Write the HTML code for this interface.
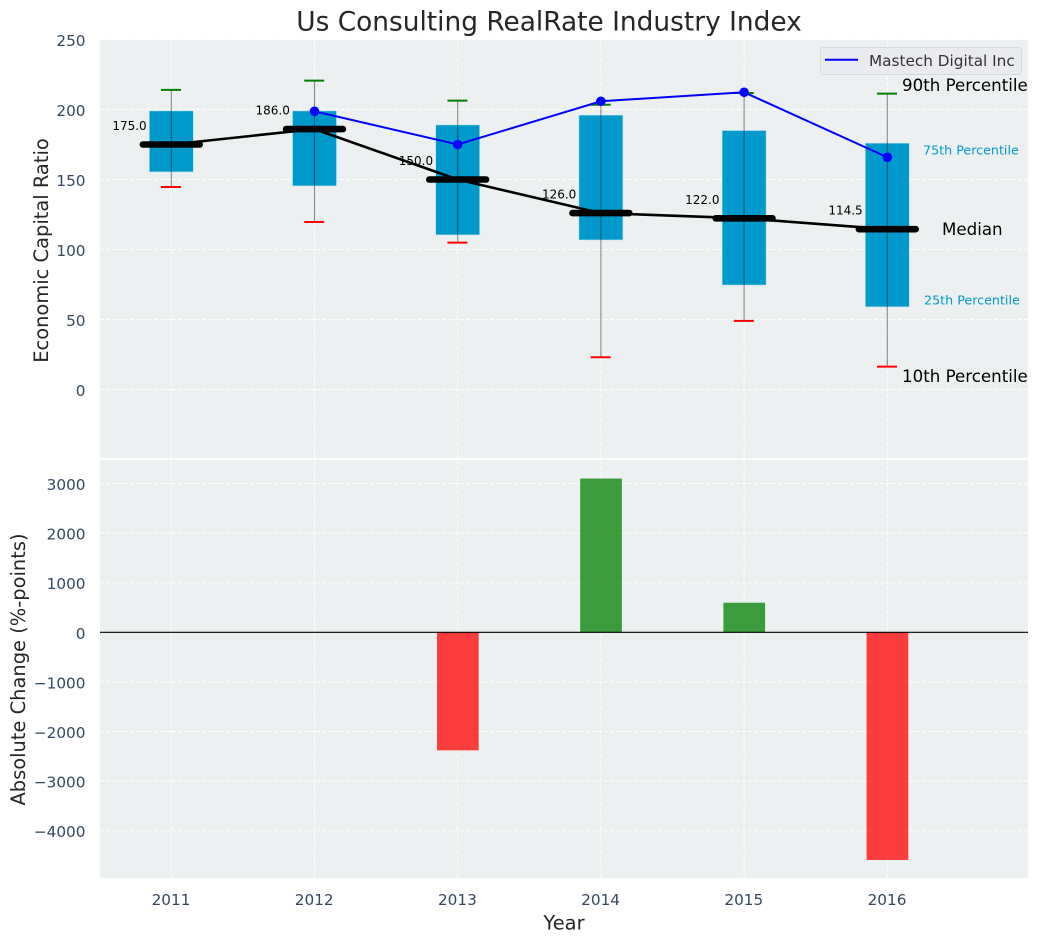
<!DOCTYPE html>
<html>
<head>
<meta charset="utf-8">
<title>Us Consulting RealRate Industry Index</title>
<style>
html,body{margin:0;padding:0;background:#fff;width:1039px;height:942px;overflow:hidden}
svg{display:block;font-family:"DejaVu Sans","Liberation Sans",sans-serif}
</style>
</head>
<body>
<svg id="chart" xmlns="http://www.w3.org/2000/svg" width="1039" height="942" viewBox="0 0 1039 942">
  <text x="549" y="30.5" text-anchor="middle" font-size="26.4" fill="#262626">Us Consulting RealRate Industry Index</text>
  <rect x="100" y="39.6" width="928" height="418.4" fill="#ecf0f1"/>
  <rect x="100" y="459.6" width="928" height="418.4" fill="#ecf0f1"/>
  <g id="topGrid"></g>
  <g id="bottomGrid"></g>
  <g id="boxes"></g>
  <g id="medianLine"></g>
  <g id="whiskers"></g>
  <g id="medians"></g>
  <g id="company"></g>
  <g id="medianLabels"></g>
  <g id="bars"></g>
  <g id="ticks"></g>
  <text transform="translate(48 250.5) rotate(-90)" text-anchor="middle" font-size="19.44" fill="#262626">Economic Capital Ratio</text>
  <text transform="translate(25 669.5) rotate(-90)" text-anchor="middle" font-size="19.44" fill="#262626">Absolute Change (%-points)</text>
  <text x="564" y="929.3" text-anchor="middle" font-size="19.44" fill="#262626">Year</text>
  <text x="902" y="91" font-size="16.67" fill="#000">90th Percentile</text>
  <text x="923" y="154.5" font-size="12.7" fill="#0099cc">75th Percentile</text>
  <text x="942" y="235" font-size="16.67" fill="#000">Median</text>
  <text x="924" y="304.5" font-size="12.7" fill="#0099cc">25th Percentile</text>
  <text x="902" y="382" font-size="16.67" fill="#000">10th Percentile</text>
  <g>
    <rect x="820.5" y="47.5" width="201" height="27" rx="3" fill="#e9ebf0" stroke="#d6d8dc" stroke-width="1"/>
    <line x1="825" y1="59.8" x2="858" y2="59.8" stroke="#0000ff" stroke-width="2"/>
    <text x="869" y="66" font-size="15.28" fill="#333">Mastech Digital Inc</text>
  </g>
</svg>
<script>
const years = ['2011', '2012', '2013', '2014', '2015', '2016'];
const p10 = [144.6, 119.6, 104.9, 23, 49, 16.3];
const p25 = [155.4, 145.4, 110.4, 106.8, 74.6, 59];
const medianValues = [175, 186, 150, 126, 122.3, 114.5];
const medianLabelsText = ['175.0', '186.0', '150.0', '126.0', '122.0', '114.5'];
const p75 = [199, 199, 189, 196, 185, 176];
const p90 = [214, 220.6, 206.3, 203.4, 211.8, 211.3];
const companyValues = [null, 198.7, 175, 205.9, 212.3, 165.9];
const changeValues = [null, null, -2380, 3100, 596, -4590];
const topTicks = [0, 50, 100, 150, 200, 250];
const bottomTicks = [-4000, -3000, -2000, -1000, 0, 1000, 2000, 3000];

const NS = 'http://www.w3.org/2000/svg';
const xPos = i => 171.3 + 143.2 * i;
const yTop = v => 389.5 - 1.4 * v;
const yBot = v => 632.3 - 0.0496 * v;
const tickText = v => String(v).replace('-', '\u2212');

function mk(tag, parent, attrs, text) {
  const el = document.createElementNS(NS, tag);
  for (const k in attrs) el.setAttribute(k, attrs[k]);
  if (text !== undefined) el.textContent = text;
  document.getElementById(parent).appendChild(el);
  return el;
}
const dash = {stroke: '#ffffff', 'stroke-width': 1, 'stroke-dasharray': '4 2'};

years.forEach((y, i) => {
  const a = mk('line', 'topGrid', {x1: xPos(i), x2: xPos(i), y1: 39.6, y2: 458, ...dash});
  
  
  const b = mk('line', 'bottomGrid', {x1: xPos(i), x2: xPos(i), y1: 459.6, y2: 878, ...dash});
  
  
  const t = mk('text', 'ticks', {x: xPos(i) - 0.3, y: 905, 'text-anchor': 'middle', 'font-size': 15.28, fill: '#34495e'}, y);
  
  
});

topTicks.forEach(v => {
  const g = mk('line', 'topGrid', {x1: 100, x2: 1028, y1: yTop(v), y2: yTop(v), ...dash});
  
  
  const t = mk('text', 'ticks', {x: 85.5, y: yTop(v) + 6.5, 'text-anchor': 'end', 'font-size': 15.28, fill: '#34495e'}, tickText(v));
  
  
});

bottomTicks.forEach(v => {
  const g = mk('line', 'bottomGrid', {x1: 100, x2: 1028, y1: yBot(v), y2: yBot(v), ...dash});
  
  
  const t = mk('text', 'ticks', {x: 85.5, y: yBot(v) + 6.5, 'text-anchor': 'end', 'font-size': 15.28, fill: '#34495e'}, tickText(v));
  
  
});

years.forEach((y, i) => {
  const box = mk('rect', 'boxes', {x: xPos(i) - 22, width: 44, y: yTop(p75[i]), height: yTop(p25[i]) - yTop(p75[i]), fill: '#0099cc', stroke: '#bfe5f2', 'stroke-width': 0.6});
  
  

  const w = mk('line', 'whiskers', {x1: xPos(i), x2: xPos(i), y1: yTop(p90[i]), y2: yTop(p10[i]), stroke: '#000', 'stroke-opacity': 0.45, 'stroke-width': 1.1});
  
  

  const hi = mk('line', 'whiskers', {x1: xPos(i) - 10.3, x2: xPos(i) + 9.7, y1: yTop(p90[i]), y2: yTop(p90[i]), stroke: '#008000', 'stroke-width': 2});
  
  

  const lo = mk('line', 'whiskers', {x1: xPos(i) - 10.3, x2: xPos(i) + 9.7, y1: yTop(p10[i]), y2: yTop(p10[i]), stroke: '#ff0000', 'stroke-width': 2});
  
  

  const m = mk('line', 'medians', {x1: xPos(i) - 28.4, x2: xPos(i) + 28.4, y1: yTop(medianValues[i]), y2: yTop(medianValues[i]), stroke: '#000', 'stroke-width': 6.6, 'stroke-linecap': 'round'});
  
  

  const lab = mk('text', 'medianLabels', {x: xPos(i) - 24.6, y: yTop(medianValues[i]) - 14.5, 'text-anchor': 'end', 'font-size': 12, fill: '#000'}, medianLabelsText[i]);
  
  

  if (changeValues[i] !== null) {
    const v = changeValues[i];
    const bar = mk('rect', 'bars', {x: xPos(i) - 20.7, width: 41.7, y: Math.min(yBot(v), yBot(0)), height: Math.abs(yBot(v) - yBot(0)), fill: v > 0 ? '#008000' : '#ff0000', 'fill-opacity': 0.75});
    
    
  }
});

const trend = mk('polyline', 'medianLine', {points: medianValues.map((v, i) => xPos(i) + ',' + yTop(v)).join(' '), fill: 'none', stroke: '#000', 'stroke-width': 2.6});



const companyPts = companyValues.map((v, i) => v === null ? null : [xPos(i), yTop(v)]).filter(Boolean);
const line = mk('polyline', 'company', {points: companyPts.map(p => p.join(',')).join(' '), fill: 'none', stroke: '#0000ff', 'stroke-width': 2});


companyPts.forEach(p => {
  const c = mk('circle', 'company', {cx: p[0], cy: p[1], r: 4.8, fill: '#0000ff'});
  
  
});

const zero = mk('line', 'bars', {x1: 100, x2: 1028, y1: yBot(0), y2: yBot(0), stroke: '#000', 'stroke-width': 1.2});


</script>
</body>
</html>
